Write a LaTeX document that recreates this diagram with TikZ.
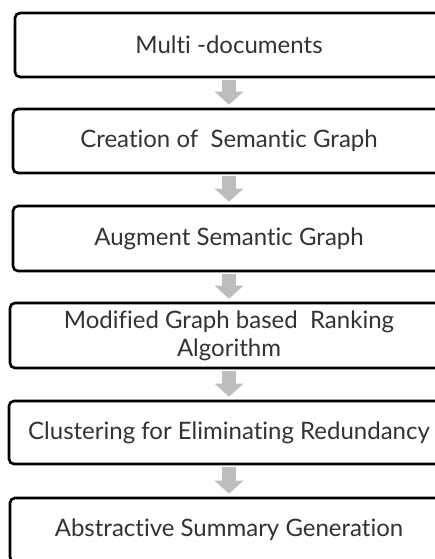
\documentclass[tikz,border=0pt]{standalone}
\usepackage{fontspec}
\setmainfont{Lato}[Ligatures=NoCommon]
\usetikzlibrary{arrows.meta}
\definecolor{txtgray}{HTML}{333333}
\definecolor{arrgray}{HTML}{BDBDBD}
\begin{document}
\begin{tikzpicture}[x=1pt,y=-1pt,
  stage/.style={draw=black, line width=2.6pt, rounded corners=5pt, fill=white,
    text=txtgray, font=\fontsize{24}{28}\selectfont, align=center, inner sep=0pt},
  flow/.style={draw=arrgray, line width=14pt,
    -{Triangle[width=28pt,length=13pt]}, shorten <=2pt, shorten >=3pt}]
\useasboundingbox (0,0) rectangle (435,559);
\clip (0,0) rectangle (435,559);
\node[stage, minimum width=428pt, minimum height=64pt] (s1) at (229,45) {Multi -documents};
\node[stage, minimum width=432pt, minimum height=64pt] (s2) at (229,141) {Creation of \ Semantic Graph};
\node[stage, minimum width=432pt, minimum height=65pt] (s3) at (229,238.5) {Augment Semantic Graph};
\node[stage, minimum width=438pt, minimum height=65pt] (s4) at (229,335.5) {Modified Graph based \ Ranking\\Algorithm};
\node[stage, minimum width=440pt, minimum height=63pt] (s5) at (229,432.5) {Clustering for Eliminating Redundancy};
\node[stage, minimum width=438pt, minimum height=64pt] (s6) at (229,530) {Abstractive Summary Generation};
\draw[flow] (s1) -- (s2);
\draw[flow] (s2) -- (s3);
\draw[flow] (s3) -- (s4);
\draw[flow] (s4) -- (s5);
\draw[flow] (s5) -- (s6);
\end{tikzpicture}
\end{document}
